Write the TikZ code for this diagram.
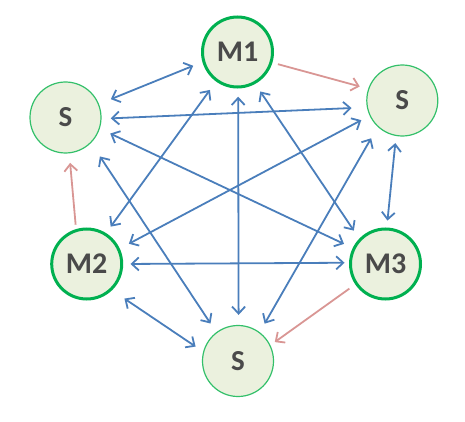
\documentclass[tikz,border=0pt]{standalone}
\usepackage{fontspec}
\setmainfont{Carlito}
\usetikzlibrary{arrows.meta}
\definecolor{nodefill}{HTML}{EBF1DE}
\definecolor{mgreen}{HTML}{00B050}
\definecolor{sgreen}{HTML}{33C06A}
\definecolor{lblue}{HTML}{4A7EBB}
\definecolor{lred}{HTML}{D99694}
\definecolor{txt}{HTML}{4A4A4A}
\tikzset{
  mnode/.style={circle, draw=mgreen, line width=3pt, fill=nodefill, minimum size=70pt, inner sep=0pt,
    text=txt, font=\fontsize{30}{32}\selectfont\bfseries},
  snode/.style={circle, draw=sgreen, line width=1.2pt, fill=nodefill, minimum size=71pt, inner sep=0pt,
    text=txt, font=\fontsize{29}{32}\selectfont\bfseries},
  biarrow/.style={draw=lblue, line width=1.8pt, {Straight Barb[length=7pt,width=13pt]}-{Straight Barb[length=7pt,width=13pt]}},
  redarrow/.style={draw=lred, line width=1.8pt, -{Straight Barb[length=7pt,width=13pt]}},
}
\begin{document}
\begin{tikzpicture}[x=1pt,y=-1pt]
\useasboundingbox (0,0) rectangle (465,422);
\node[mnode] (M1) at (237.5,52) {M1};
\node[snode] (SR) at (402.3,100.5) {S};
\node[snode] (SL) at (65.5,117.5) {S};
\node[mnode] (M2) at (86.7,264) {M2};
\node[mnode] (M3) at (385.5,264) {M3};
\node[snode] (SB) at (238,361) {S};
% blue double arrows
\draw[biarrow, shorten <=9.9pt, shorten >=12.8pt] (M1.196.3) -- (SL.22.3);
\draw[biarrow, shorten <=9.2pt, shorten >=15.3pt] (SL.358) -- (SR.191.4);
\draw[biarrow, shorten <=11.5pt, shorten >=9.6pt] (SL.342.2) -- (M3.154.3);
\draw[biarrow, shorten <=7.9pt, shorten >=10.4pt] (M2.58.5) -- (M1.234.1);
\draw[biarrow, shorten <=10.3pt, shorten >=9.4pt] (M2.25.3) -- (SR.205.3);
\draw[biarrow, shorten <=7.3pt, shorten >=4.5pt] (M2.0.9) -- (M3.178.2);
\draw[biarrow, shorten <=14.9pt, shorten >=9.1pt] (M2.314.7) -- (SB.165.9);
\draw[biarrow, shorten <=9.1pt, shorten >=9.7pt] (M1.299.5) -- (M3.136.3);
\draw[biarrow, shorten <=13.1pt, shorten >=9.8pt] (SR.227.6) -- (SB.53.9);
\draw[biarrow, shorten <=16.1pt, shorten >=10.4pt] (SL.315.5) -- (SB.127.1);
\draw[biarrow, shorten <=8.2pt, shorten >=10pt] (M1.271) -- (SB.89);
\draw[biarrow, shorten <=7.1pt, shorten >=7pt] (SR.260.3) -- (M3.88.4);
% red arrows
\draw[redarrow, shorten <=5.7pt, shorten >=8.7pt] (M1.343.5) -- (SR.161.1);
\draw[redarrow, shorten <=4.4pt, shorten >=9.5pt] (M2.107.4) -- (SL.276.6);
\draw[redarrow, shorten <=7.2pt, shorten >=5.3pt] (M3.214.4) -- (SB.26.3);
\end{tikzpicture}
\end{document}
